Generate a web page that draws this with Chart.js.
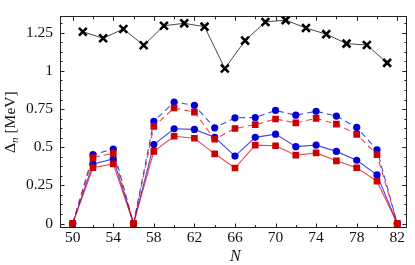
<!DOCTYPE html>
<html><head><meta charset="utf-8">
<script src="https://cdn.jsdelivr.net/npm/chart.js@4/dist/chart.umd.min.js"></script>
<style>html,body{margin:0;padding:0;background:#fff}</style>
</head><body>
<canvas id="c" width="415" height="265" style="width:415px;height:265px"></canvas>
<script>
// ---- data ----
const nEven = [50,52,54,56,58,60,62,64,66,68,70,72,74,76,78,80,82];
const nOdd  = [51,53,55,57,59,61,63,65,67,69,71,73,75,77,79,81];
const crossVals  = [1.257,1.214,1.275,1.168,1.296,1.312,1.290,1.016,1.199,1.321,1.333,1.281,1.241,1.179,1.170,1.053];
const blueDashed = [0,0.452,0.488,0,0.670,0.796,0.775,0.627,0.693,0.695,0.741,0.710,0.736,0.704,0.630,0.483,0];
const redDashed  = [0,0.432,0.461,0,0.636,0.757,0.730,0.553,0.623,0.648,0.685,0.660,0.689,0.652,0.584,0.452,0];
const blueSolid  = [0,0.391,0.424,0,0.518,0.621,0.617,0.565,0.442,0.565,0.586,0.504,0.514,0.473,0.415,0.319,0];
const redSolid   = [0,0.366,0.391,0,0.473,0.572,0.559,0.457,0.364,0.514,0.510,0.448,0.463,0.411,0.366,0.278,0];
const xTickLabels = [50,54,58,62,66,70,74,78,82];
const yTickLabels = [0,0.25,0.5,0.75,1,1.25];
const xTitle = 'N';
const yTitleMain = 'Δ', yTitleSub = 'n', yTitleRest = ' [MeV]';

const FONT = '"Liberation Serif", "DejaVu Serif", serif';
const pts = (xs, ys) => xs.map((x, i) => ({x, y: ys[i]}));
const BLUE = 'rgb(0,0,210)', BLUEL = 'rgba(0,0,225,0.72)';
const RED = 'rgb(205,0,0)', REDL = 'rgba(225,0,0,0.72)';

const frame = {
  id: 'frame',
  afterDraw(chart) {
    const {ctx, chartArea: a, scales: {x, y}} = chart;
    ctx.save();
    ctx.strokeStyle = '#222';
    ctx.lineWidth = 1;
    ctx.strokeRect(Math.round(a.left) + 0.5, Math.round(a.top) + 0.5,
                   Math.round(a.right - a.left) - 1, Math.round(a.bottom - a.top) - 1);
    ctx.beginPath();
    for (let v = 50; v <= 82; v += 2) {
      const px = Math.round(x.getPixelForValue(v)) + 0.5;
      const L = ((v - 50) % 4 === 0) ? 4.5 : 3;
      ctx.moveTo(px, a.bottom); ctx.lineTo(px, a.bottom - L);
      ctx.moveTo(px, a.top); ctx.lineTo(px, a.top + L);
    }
    for (let k = 0; k <= 21; k++) {
      const v = k * 0.0625;
      const py = Math.round(y.getPixelForValue(v)) + 0.5;
      if (py < a.top + 1) continue;
      const L = (k % 4 === 0) ? 4.5 : 2.5;
      ctx.moveTo(a.left, py); ctx.lineTo(a.left + L, py);
      ctx.moveTo(a.right, py); ctx.lineTo(a.right - L, py);
    }
    ctx.stroke();
    // axis titles
    ctx.fillStyle = '#111';
    ctx.textBaseline = 'alphabetic';
    ctx.font = 'italic 16px ' + FONT;
    ctx.textAlign = 'center';
    ctx.fillText(xTitle, (a.left + a.right) / 2 + 2, 261);
    ctx.translate(14.5, (a.top + a.bottom) / 2);
    ctx.rotate(-Math.PI / 2);
    const fMain = '15.5px ' + FONT, fSub = 'italic 11px ' + FONT;
    ctx.font = fMain; const w1 = ctx.measureText(yTitleMain).width;
    const w3 = ctx.measureText(yTitleRest).width;
    ctx.font = fSub; const w2 = ctx.measureText(yTitleSub).width;
    let sx = -(w1 + w2 + w3) / 2;
    ctx.textAlign = 'left';
    ctx.font = fMain; ctx.fillText(yTitleMain, sx, 0); sx += w1;
    ctx.font = fSub; ctx.fillText(yTitleSub, sx, 3); sx += w2;
    ctx.font = fMain; ctx.fillText(yTitleRest, sx, 0);
    ctx.restore();
  }
};

new Chart(document.getElementById('c'), {
  type: 'line',
  data: {
    datasets: [
      {data: pts(nOdd, crossVals), borderColor: '#333', borderWidth: 0.9,
       pointStyle: 'crossRot', pointRadius: 5.5, pointBorderColor: '#000', pointBorderWidth: 2.6,
       pointBackgroundColor: '#000'},
      {data: pts(nEven, redSolid), borderColor: REDL, borderWidth: 1.1,
       pointStyle: 'rect', pointRadius: 4.7, pointBackgroundColor: RED, pointBorderColor: RED, pointBorderWidth: 0},
      {data: pts(nEven, redDashed), borderColor: REDL, borderWidth: 1.1, borderDash: [6, 4],
       pointStyle: 'rect', pointRadius: 4.7, pointBackgroundColor: RED, pointBorderColor: RED, pointBorderWidth: 0},
      {data: pts(nEven, blueSolid), borderColor: BLUEL, borderWidth: 1.1,
       pointStyle: 'circle', pointRadius: 3.6, pointBackgroundColor: BLUE, pointBorderColor: BLUE, pointBorderWidth: 0},
      {data: pts(nEven, blueDashed), borderColor: BLUEL, borderWidth: 1.1, borderDash: [6, 4],
       pointStyle: 'circle', pointRadius: 3.6, pointBackgroundColor: BLUE, pointBorderColor: BLUE, pointBorderWidth: 0}
    ]
  },
  options: {
    responsive: false, animation: false, devicePixelRatio: 1,
    layout: {padding: {left: 0, right: 6, top: 3, bottom: 0}},
    plugins: {legend: {display: false}, tooltip: {enabled: false}},
    elements: {line: {tension: 0}},
    scales: {
      x: {
        type: 'linear', min: 48.75, max: 82.95,
        afterBuildTicks: s => { s.ticks = xTickLabels.map(v => ({value: v})); },
        afterFit: s => { s.height = 37; },
        grid: {display: false, drawTicks: false}, border: {display: false},
        ticks: {color: '#111', font: {family: FONT, size: 15.5}, padding: 1, maxRotation: 0, autoSkip: false,
                callback: v => String(v)}
      },
      y: {
        type: 'linear', min: -0.029, max: 1.358,
        afterBuildTicks: s => { s.ticks = yTickLabels.map(v => ({value: v})); },
        afterFit: s => { s.width = 60; },
        grid: {display: false, drawTicks: false}, border: {display: false},
        ticks: {color: '#111', font: {family: FONT, size: 15.5}, padding: 7, autoSkip: false,
                callback: v => String(v)}
      }
    }
  },
  plugins: [frame]
});
</script>
</body></html>
